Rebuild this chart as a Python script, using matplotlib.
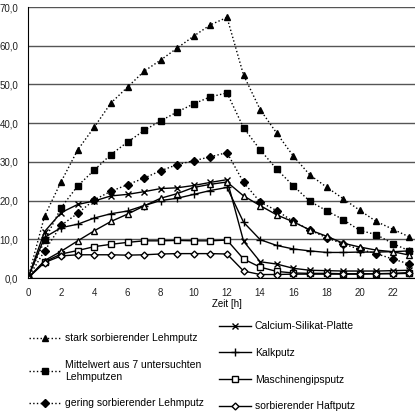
import matplotlib
matplotlib.use("Agg")
import matplotlib.pyplot as plt
from matplotlib.ticker import FuncFormatter

plt.rcParams["font.family"] = ["Liberation Sans", "DejaVu Sans"]

hours = list(range(0, 24))

stark = [0, 16.0, 24.9, 33.1, 39.0, 45.2, 49.3, 53.4, 56.3, 59.4, 62.5, 65.4, 67.3,
         52.4, 43.5, 37.4, 31.5, 26.6, 23.5, 20.5, 17.5, 14.6, 12.6, 10.6]
mittel = [0, 9.7, 18.2, 23.8, 27.9, 31.9, 35.1, 38.1, 40.6, 42.9, 45.0, 46.8, 47.8,
          38.8, 33.1, 28.1, 23.8, 19.8, 17.4, 15.1, 12.3, 11.2, 8.9, 7.0]
gering = [0, 7.0, 13.6, 16.7, 20.2, 22.4, 24.1, 25.8, 27.7, 29.3, 30.3, 31.3, 32.4,
          24.7, 19.6, 17.4, 14.6, 12.4, 10.4, 8.8, 7.4, 6.3, 4.9, 3.6]
calcium = [0, 12.0, 16.9, 19.0, 19.9, 21.2, 21.6, 22.3, 23.1, 23.3, 23.9, 24.7, 25.4,
           9.5, 4.2, 3.6, 2.5, 2.0, 1.9, 1.8, 1.8, 1.8, 1.9, 2.0]
kalk = [0, 10.5, 13.0, 13.9, 15.5, 16.6, 17.3, 18.7, 20.0, 20.6, 21.6, 22.6, 23.4,
        14.4, 9.9, 8.4, 7.5, 7.0, 6.6, 6.6, 6.7, 6.7, 6.8, 7.0]
gips = [0, 4.2, 6.2, 7.1, 8.1, 8.7, 9.2, 9.6, 9.6, 9.7, 9.6, 9.6, 9.8,
        4.9, 2.8, 1.7, 1.3, 1.2, 1.2, 1.1, 1.1, 1.1, 1.2, 1.4]
dreieck = [0, 4.5, 6.9, 9.6, 12.2, 14.6, 16.5, 18.6, 20.6, 21.8, 23.4, 24.2, 24.8,
           21.2, 18.7, 16.3, 14.5, 12.4, 10.8, 9.0, 8.0, 7.2, 6.8, 5.9]
haft = [0, 4.0, 5.7, 6.0, 6.0, 6.0, 5.9, 6.0, 6.2, 6.3, 6.3, 6.3, 6.2,
        1.8, 0.9, 0.9, 1.0, 1.0, 1.0, 1.0, 1.0, 1.1, 1.1, 1.2]

x_ticks = list(range(0, 24, 2))
y_ticks = [0, 10, 20, 30, 40, 50, 60, 70]

fig = plt.figure(figsize=(4.15, 4.11), dpi=100)
ax = fig.add_axes([28 / 415, 133 / 411, 398 / 415, 271 / 411])

ax.set_xlim(0, 24)
ax.set_ylim(0, 70)
ax.set_yticks(y_ticks)
ax.set_xticks(x_ticks)
ax.yaxis.set_major_formatter(FuncFormatter(lambda v, p: f"{v:.1f}".replace(".", ",")))
ax.grid(axis="y", color="#555555", linewidth=1.0)
ax.set_axisbelow(True)
for s in ["top", "right"]:
    ax.spines[s].set_visible(False)
ax.tick_params(axis="y", labelsize=7, length=0, colors="#222222", pad=7)
ax.tick_params(axis="x", labelsize=7, length=0, colors="#222222", pad=7)
ax.set_xlabel("Zeit [h]", fontsize=7, labelpad=1)

k = dict(color="black", linewidth=1.0)
h1, = ax.plot(hours, stark, linestyle=":", marker="^", markersize=5, **k,
              label="stark sorbierender Lehmputz")
h2, = ax.plot(hours, mittel, linestyle=":", marker="s", markersize=5, **k,
              label="Mittelwert aus 7 untersuchten\nLehmputzen")
h3, = ax.plot(hours, gering, linestyle=":", marker="D", markersize=4, **k,
              label="gering sorbierender Lehmputz")
h4, = ax.plot(hours, calcium, linestyle="-", marker="x", markersize=5, **k,
              label="Calcium-Silikat-Platte")
h5, = ax.plot(hours, kalk, linestyle="-", marker="+", markersize=6, **k,
              label="Kalkputz")
h6, = ax.plot(hours, gips, linestyle="-", marker="s", markersize=5,
              markerfacecolor="white", **k, label="Maschinengipsputz")
h7, = ax.plot(hours, dreieck, linestyle="-", marker="^", markersize=5,
              markerfacecolor="white", **k, label="_dreieck")
h8, = ax.plot(hours, haft, linestyle="-", marker="D", markersize=3.5,
              markerfacecolor="white", **k, label="sorbierender Haftputz")

leg_kw = dict(frameon=False, fontsize=7.5, handlelength=3, handletextpad=0.4,
              labelspacing=1.6)
fig.legend(handles=[h1, h2, h3], loc="upper left",
           bbox_to_anchor=(20 / 415, 1 - 324 / 411), **leg_kw)
fig.legend(handles=[h4, h5, h6, h8], loc="upper left",
           bbox_to_anchor=(210 / 415, 1 - 312 / 411), **leg_kw)

fig.savefig("out.png", dpi=100)
